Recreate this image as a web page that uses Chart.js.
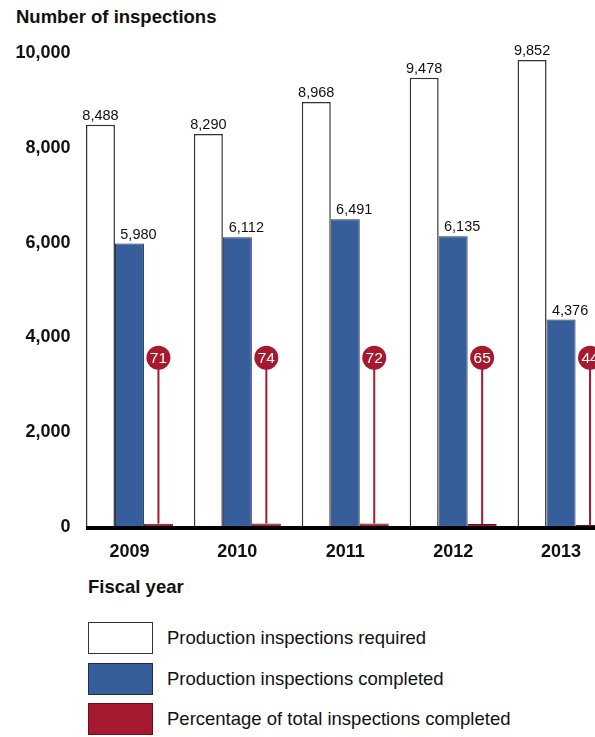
<!DOCTYPE html>
<html><head><meta charset="utf-8">
<script src="https://cdn.jsdelivr.net/npm/chart.js@4"></script>
<style>
html,body{margin:0;padding:0;background:#fff;width:595px;height:737px;overflow:hidden;font-family:"Liberation Sans",Arial,sans-serif;color:#111}
#wrap{position:absolute;left:0;top:0;width:615px;height:567px}
.t{position:absolute;font-weight:bold;font-size:18.5px;line-height:20px;white-space:nowrap}
.box{position:absolute;left:88px;width:65px;height:32px;box-sizing:border-box;border:1.5px solid #333}
.lt{position:absolute;left:167px;font-size:18.5px;line-height:32px;white-space:nowrap}
</style></head><body>
<div class="t" style="left:16px;top:7px">Number of inspections</div>
<div id="wrap"><canvas id="c"></canvas></div>
<div class="t" style="left:88px;top:577px">Fiscal year</div>
<div id="legend"></div>
<script>
const years = ['2009', '2010', '2011', '2012', '2013'];
const required = [8488, 8290, 8968, 9478, 9852];
const completed = [5980, 6112, 6491, 6135, 4376];
const percentCompleted = [71, 74, 72, 65, 44];
const yTicks = [0, 2000, 4000, 6000, 8000, 10000];
const seriesNames = ['Production inspections required', 'Production inspections completed', 'Percentage of total inspections completed'];

const FONT = '"Liberation Sans", Arial, sans-serif';
const CALLOUT_LEVEL = 3570; // height (axis units) where percentage markers sit
const LABEL_SHIFT = [0, 9];  // horizontal shift of value labels (px)
const fills = ['#ffffff', '#365e9b', '#a6192e'];
const borders = ['#333333', '#1d2f4d', '#6b0f1d'];

const overlay = {
  id: 'overlay',
  afterDatasetsDraw(chart) {
    const ctx = chart.ctx;
    const y = chart.scales.y;
    const y0 = y.getPixelForValue(0);
    ctx.save();
    // value labels
    ctx.font = '14.5px ' + FONT;
    ctx.fillStyle = '#111';
    ctx.textAlign = 'center';
    ctx.textBaseline = 'alphabetic';
    [0, 1].forEach(di => {
      chart.getDatasetMeta(di).data.forEach((bar, i) => {
        const v = chart.data.datasets[di].data[i];
        ctx.fillText(v.toLocaleString('en-US'), bar.x + LABEL_SHIFT[di], bar.y - 5);
      });
    });
    // baseline
    const first = chart.getDatasetMeta(0).data[0];
    const bx = first.x - first.width / 2;
    ctx.fillStyle = '#000';
    ctx.fillRect(bx, y0 - 1, chart.width - bx, 4);
    // percentage callouts
    const cy = y.getPixelForValue(CALLOUT_LEVEL);
    chart.getDatasetMeta(2).data.forEach((bar, i) => {
      ctx.strokeStyle = fills[2];
      ctx.lineWidth = 2;
      ctx.beginPath();
      ctx.moveTo(bar.x, cy);
      ctx.lineTo(bar.x, bar.y);
      ctx.stroke();
      ctx.fillStyle = fills[2];
      ctx.beginPath();
      ctx.arc(bar.x, cy, 12, 0, Math.PI * 2);
      ctx.fill();
      ctx.fillStyle = '#fff';
      ctx.font = '15.5px ' + FONT;
      ctx.textBaseline = 'middle';
      ctx.fillText(String(chart.data.datasets[2].data[i]), bar.x, cy + 1);
    });
    ctx.restore();
  }
};

const chart = new Chart(document.getElementById('c'), {
  type: 'bar',
  data: {
    labels: years,
    datasets: [
      { label: seriesNames[0], data: required, backgroundColor: fills[0], borderColor: borders[0], borderWidth: 1.5 },
      { label: seriesNames[1], data: completed, backgroundColor: fills[1], borderColor: borders[1], borderWidth: 1 },
      { label: seriesNames[2], data: percentCompleted, backgroundColor: fills[2], borderColor: borders[2], borderWidth: 1 }
    ]
  },
  options: {
    responsive: true,
    maintainAspectRatio: false,
    animation: false,
    layout: { padding: { top: 53, left: 0, right: 0, bottom: 0 } },
    datasets: { bar: { categoryPercentage: 0.806, barPercentage: 1 } },
    plugins: { legend: { display: false }, tooltip: { enabled: false } },
    scales: {
      x: {
        grid: { display: false, drawTicks: false },
        border: { display: false },
        ticks: { font: { family: FONT, size: 18, weight: 'bold' }, color: '#111', padding: 14 },
        afterFit(s) { s.height = 40; }
      },
      y: {
        min: 0, max: 10000,
        grid: { display: false, drawTicks: false },
        border: { display: false },
        afterBuildTicks(s) { s.ticks = yTicks.map(v => ({ value: v })); },
        ticks: { font: { family: FONT, size: 18, weight: 'bold' }, color: '#111', padding: 5,
                 callback: v => v.toLocaleString('en-US') },
        afterFit(s) { s.width = 75.5; }
      }
    }
  },
  plugins: [overlay]
});

// legend built from the chart's datasets
const legendTops = [622, 663, 703];
const lg = document.getElementById('legend');
chart.data.datasets.forEach((ds, i) => {
  const b = document.createElement('div');
  b.className = 'box';
  b.style.top = legendTops[i] + 'px';
  b.style.background = ds.backgroundColor;
  b.style.borderColor = ds.borderColor;
  lg.appendChild(b);
  const t = document.createElement('div');
  t.className = 'lt';
  t.style.top = legendTops[i] + 'px';
  t.textContent = ds.label;
  lg.appendChild(t);
});
</script>
</body></html>
